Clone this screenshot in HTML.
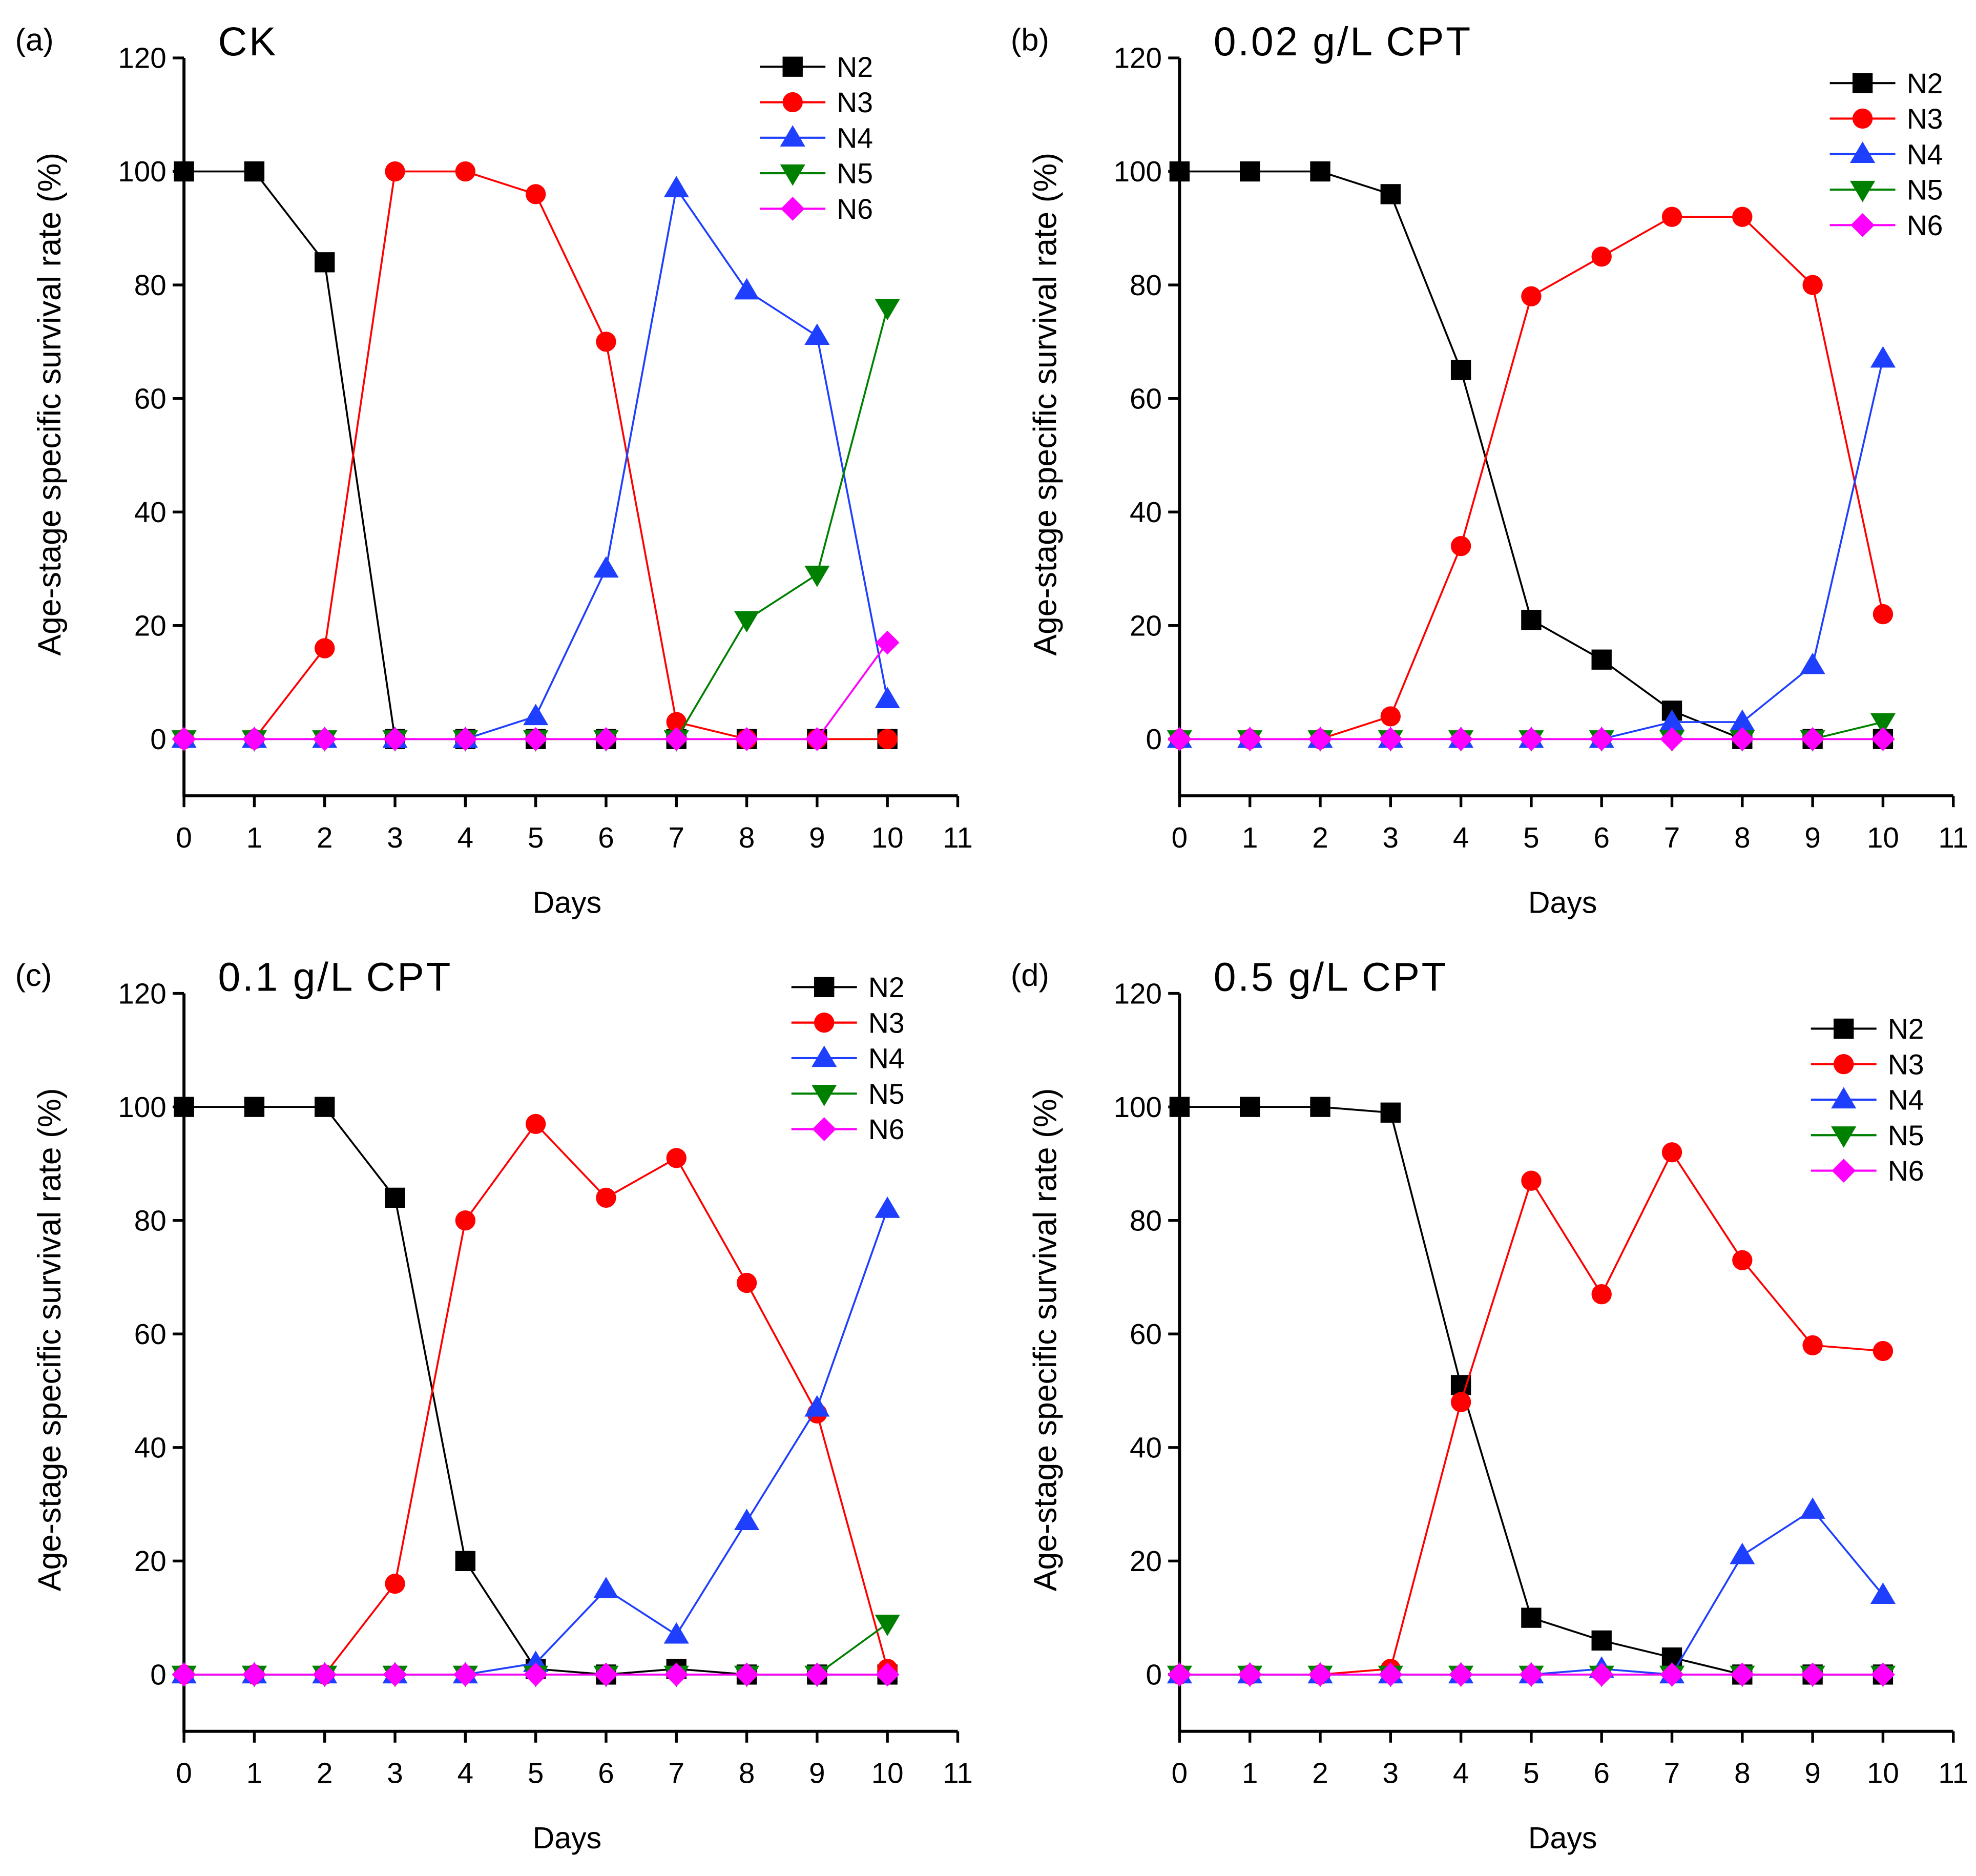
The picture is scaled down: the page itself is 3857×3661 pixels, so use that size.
<!DOCTYPE html>
<html><head><meta charset="utf-8">
<style>
html,body{margin:0;padding:0;background:#fff;}
svg{display:block;}
text{font-family:"Liberation Sans",Arial,sans-serif;fill:#000;}
</style></head>
<body>
<svg id="fig" width="3857" height="3661" viewBox="0 0 1568 1490" preserveAspectRatio="none" xmlns="http://www.w3.org/2000/svg"></svg>
<script>
const days = [0,1,2,3,4,5,6,7,8,9,10];
const xTicks = [0,1,2,3,4,5,6,7,8,9,10,11];
const yTicks = [-10,0,20,40,60,80,100,120];
const yTickLabels = ["","0","20","40","60","80","100","120"];
const seriesNames = ["N2","N3","N4","N5","N6"];
const seriesColors = ["#000000","#ff0000","#1f3fff","#008000","#ff00ff"];

const aN2 = [100,100,84,0,0,0,0,0,0,0,0];
const aN3 = [0,0,16,100,100,96,70,3,0,0,0];
const aN4 = [0,0,0,0,0,4,30,97,79,71,7];
const aN5 = [0,0,0,0,0,0,0,0,21,29,76];
const aN6 = [0,0,0,0,0,0,0,0,0,0,17];

const bN2 = [100,100,100,96,65,21,14,5,0,0,0];
const bN3 = [0,0,0,4,34,78,85,92,92,80,22];
const bN4 = [0,0,0,0,0,0,0,3,3,13,67];
const bN5 = [0,0,0,0,0,0,0,0,0,0,3];
const bN6 = [0,0,0,0,0,0,0,0,0,0,0];

const cN2 = [100,100,100,84,20,1,0,1,0,0,0];
const cN3 = [0,0,0,16,80,97,84,91,69,46,1];
const cN4 = [0,0,0,0,0,2,15,7,27,47,82];
const cN5 = [0,0,0,0,0,0,0,0,0,0,9];
const cN6 = [0,0,0,0,0,0,0,0,0,0,0];

const dN2 = [100,100,100,99,51,10,6,3,0,0,0];
const dN3 = [0,0,0,1,48,87,67,92,73,58,57];
const dN4 = [0,0,0,0,0,0,1,0,21,29,14];
const dN5 = [0,0,0,0,0,0,0,0,0,0,0];
const dN6 = [0,0,0,0,0,0,0,0,0,0,0];

const NS="http://www.w3.org/2000/svg";
const svg=document.getElementById('fig');
function mk(tag,attrs,parent){const e=document.createElementNS(NS,tag);for(const k in attrs)e.setAttribute(k,attrs[k]);(parent||svg).appendChild(e);return e;}

const panels=[
 {id:'a',label:'(a)',title:'CK',x0:146,x11:760,y0:587,y120:46,leg:[603,53],data:[aN2,aN3,aN4,aN5,aN6]},
 {id:'b',label:'(b)',title:'0.02 g/L CPT',x0:936,x11:1550,y0:587,y120:46,leg:[1452,66],data:[bN2,bN3,bN4,bN5,bN6]},
 {id:'c',label:'(c)',title:'0.1 g/L CPT',x0:146,x11:760,y0:1330,y120:789,leg:[628,784],data:[cN2,cN3,cN4,cN5,cN6]},
 {id:'d',label:'(d)',title:'0.5 g/L CPT',x0:936,x11:1550,y0:1330,y120:789,leg:[1437,817],data:[dN2,dN3,dN4,dN5,dN6]}
];

function marker(g,type,cx,cy,color){
  let e;
  if(type===0) e=mk('rect',{x:cx-8,y:cy-8,width:16,height:16,fill:color},g);
  else if(type===1) e=mk('circle',{cx:cx,cy:cy,r:8,fill:color},g);
  else if(type===2) e=mk('polygon',{points:`${cx},${cy-10} ${cx-10},${cy+7} ${cx+10},${cy+7}`,fill:color},g);
  else if(type===3) e=mk('polygon',{points:`${cx},${cy+10} ${cx-10},${cy-7} ${cx+10},${cy-7}`,fill:color},g);
  else e=mk('polygon',{points:`${cx},${cy-9.5} ${cx+9.5},${cy} ${cx},${cy+9.5} ${cx-9.5},${cy}`,fill:color},g);
  
  
  return e;
}

panels.forEach(p=>{
  const g=mk('g',{});
  
  
  const X=v=>p.x0+(p.x11-p.x0)*v/11;
  const Y=v=>p.y0-(p.y0-p.y120)*v/120;
  const yBot=Y(-10);
  const ax=mk('path',{d:`M${p.x0},${Y(120)} L${p.x0},${yBot} L${p.x11},${yBot}`,stroke:'#000','stroke-width':2.4,fill:'none'},g);
  
  
  yTicks.forEach((t,i)=>{
    if(t!==-10) mk('line',{x1:p.x0-9,x2:p.x0,y1:Y(t),y2:Y(t),stroke:'#000','stroke-width':2.2},g);
    const tl=mk('text',{x:p.x0-14,y:Y(t)+8,'text-anchor':'end','font-size':23},g);
    tl.textContent=yTickLabels[i];
    
    
  });
  xTicks.forEach(t=>{
    mk('line',{x1:X(t),x2:X(t),y1:yBot,y2:yBot+9,stroke:'#000','stroke-width':2.2},g);
    const tl=mk('text',{x:X(t),y:yBot+41,'text-anchor':'middle','font-size':23},g);
    tl.textContent=String(t);
    
    
  });
  const xt=mk('text',{x:(p.x0+p.x11)/2-3,y:yBot+93,'text-anchor':'middle','font-size':24},g);
  xt.textContent='Days';
  
  
  const ycx=p.x0-98, ycy=(Y(120)+yBot)/2-18;
  const yt=mk('text',{x:ycx,y:ycy,'text-anchor':'middle','font-size':25.5,transform:`rotate(-90 ${ycx} ${ycy})`},g);
  yt.textContent='Age-stage specific survival rate (%)';
  
  
  const pl=mk('text',{x:p.x0-134,y:Y(120)-6,'font-size':25},g);
  pl.textContent=p.label;
  
  
  const ti=mk('text',{x:p.x0+27,y:Y(120)-2,'font-size':32,'letter-spacing':1.5},g);
  ti.textContent=p.title;
  
  
  p.data.forEach((vals,si)=>{
    const sg=mk('g',{},g);
    
    
    const pts=days.map((d,i)=>X(d)+','+Y(vals[i])).join(' ');
    mk('polyline',{points:pts,fill:'none',stroke:seriesColors[si],'stroke-width':1.5},sg);
    days.forEach((d,i)=>marker(sg,si,X(d),Y(vals[i]),seriesColors[si]));
  });
  const lg=mk('g',{},g);
  
  
  seriesNames.forEach((n,si)=>{
    const ly=p.leg[1]+si*28.2, lx=p.leg[0];
    const eg=mk('g',{},lg);
    
    
    mk('line',{x1:lx,x2:lx+52,y1:ly,y2:ly,stroke:seriesColors[si],'stroke-width':1.7},eg);
    marker(eg,si,lx+26,ly,seriesColors[si]);
    const lt=mk('text',{x:lx+61,y:ly+8,'font-size':22.5},eg);
    lt.textContent=n;
  });
});
</script>
</body></html>
